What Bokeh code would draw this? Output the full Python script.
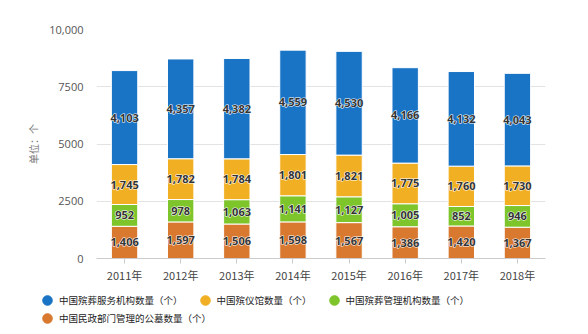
from bokeh.plotting import figure
from bokeh.layouts import column
from bokeh.models import ColumnDataSource, FactorRange, FixedTicker, Legend, LegendItem, Range1d
from bokeh.core.properties import value
from bokeh.embed import file_html
from bokeh.resources import INLINE

years = ["2011年", "2012年", "2013年", "2014年", "2015年", "2016年", "2017年", "2018年"]
service = [4103, 4357, 4382, 4559, 4530, 4166, 4132, 4043]
funeral_home = [1745, 1782, 1784, 1801, 1821, 1775, 1760, 1730]
management = [952, 978, 1063, 1141, 1127, 1005, 852, 946]
cemetery = [1406, 1597, 1506, 1598, 1567, 1386, 1420, 1367]

names = ["中国殡葬服务机构数量（个）", "中国殡仪馆数量（个）", "中国殡葬管理机构数量（个）", "中国民政部门管理的公墓数量（个）"]
colors = {"service": "#1a74c6", "funeral_home": "#f1b023", "management": "#7dc52b", "cemetery": "#d8792f"}

y_ticks = [0, 2500, 5000, 7500, 10000]
y_tick_labels = ["0", "2500", "5000", "7500", "10,000"]

CJK = "Noto Sans CJK SC"

data = dict(x=years, service=service, funeral_home=funeral_home, management=management, cemetery=cemetery)
src = ColumnDataSource(data)

p = figure(width=588, height=290, x_range=FactorRange(*years), y_range=(0, 10000),
           output_backend="svg", toolbar_location=None,
           min_border_left=96, min_border_right=43, min_border_top=29, min_border_bottom=32)
p.outline_line_color = None
p.background_fill_color = "white"
p.frame_align = False

stack = ["cemetery", "management", "funeral_home", "service"]
rs = p.vbar_stack(stack, x="x", width=0.47, source=src,
                  color=[colors[s] for s in stack], line_color="white", line_width=1)

# labels (white halo underneath, dark text on top)
cols = {"cemetery": cemetery, "management": management, "funeral_home": funeral_home, "service": service}
base = [0] * len(years)
for s in stack:
    vals = cols[s]
    mids = [b + v / 2 for b, v in zip(base, vals)]
    lsrc = ColumnDataSource(dict(x=years, y=mids, t=[f"{v:,}" for v in vals]))
    common = dict(x="x", y="y", text="t", source=lsrc, text_align="center", text_baseline="middle",
                  text_font=value("Open Sans"), text_font_size="11px", text_font_style="bold")
    p.text(text_color="white", text_outline_color="white", **common)
    p.text(text_color="#333333", **common)
    base = [b + v for b, v in zip(base, vals)]

# axes
p.yaxis.ticker = FixedTicker(ticks=y_ticks)
p.yaxis.major_label_overrides = {t: l for t, l in zip(y_ticks, y_tick_labels)}
p.yaxis.axis_line_color = None
p.yaxis.major_tick_line_color = None
p.yaxis.minor_tick_line_color = None
p.yaxis.major_label_text_color = "#555555"
p.yaxis.major_label_text_font = "Open Sans"
p.yaxis.major_label_text_font_size = "11px"
p.yaxis.major_label_standoff = 7
p.yaxis.axis_label = "单位：个"
p.yaxis.axis_label_text_font = CJK
p.yaxis.axis_label_text_font_style = "normal"
p.yaxis.axis_label_text_font_size = "10px"
p.yaxis.axis_label_text_color = "#777777"
p.yaxis.axis_label_standoff = 5

p.xaxis.axis_line_color = "#cccccc"
p.xaxis.major_tick_line_color = "#cccccc"
p.xaxis.major_tick_out = 5
p.xaxis.major_tick_in = 0
p.xaxis.major_label_text_color = "#444444"
p.xaxis.major_label_text_font = CJK
p.xaxis.major_label_text_font_size = "11px"
p.xaxis.major_label_standoff = 3

p.xgrid.grid_line_color = None
p.ygrid.grid_line_color = "#e3e3e3"
p.ygrid.ticker = FixedTicker(ticks=y_ticks)

# legend figure
lf = figure(width=588, height=44, x_range=Range1d(0, 1), y_range=Range1d(0, 1),
            output_backend="svg", toolbar_location=None,
            min_border_left=0, min_border_right=0, min_border_top=0, min_border_bottom=0)
lf.axis.visible = False
lf.grid.visible = False
lf.outline_line_color = None
lf.frame_align = False

legend_keys = ["service", "funeral_home", "management", "cemetery"]
dummies = [lf.scatter(x=[-5], y=[-5], marker="circle", color=colors[k], line_color=colors[k]) for k in legend_keys]

def make_legend(items, loc):
    return Legend(items=items, location=loc, orientation="horizontal",
                  padding=0, margin=0, spacing=10, label_standoff=0,
                  glyph_width=24, glyph_height=24, label_height=24,
                  label_text_font=CJK, label_text_font_size="9.5px", label_text_color="#222222",
                  background_fill_alpha=0, border_line_alpha=0)

lf.add_layout(make_legend([LegendItem(label=names[i], renderers=[dummies[i]]) for i in range(3)], (35, 22)))
lf.add_layout(make_legend([LegendItem(label=names[3], renderers=[dummies[3]])], (35, 4)))

layout = column(p, lf, spacing=0)
open("out.html", "w").write(file_html(layout, INLINE))
